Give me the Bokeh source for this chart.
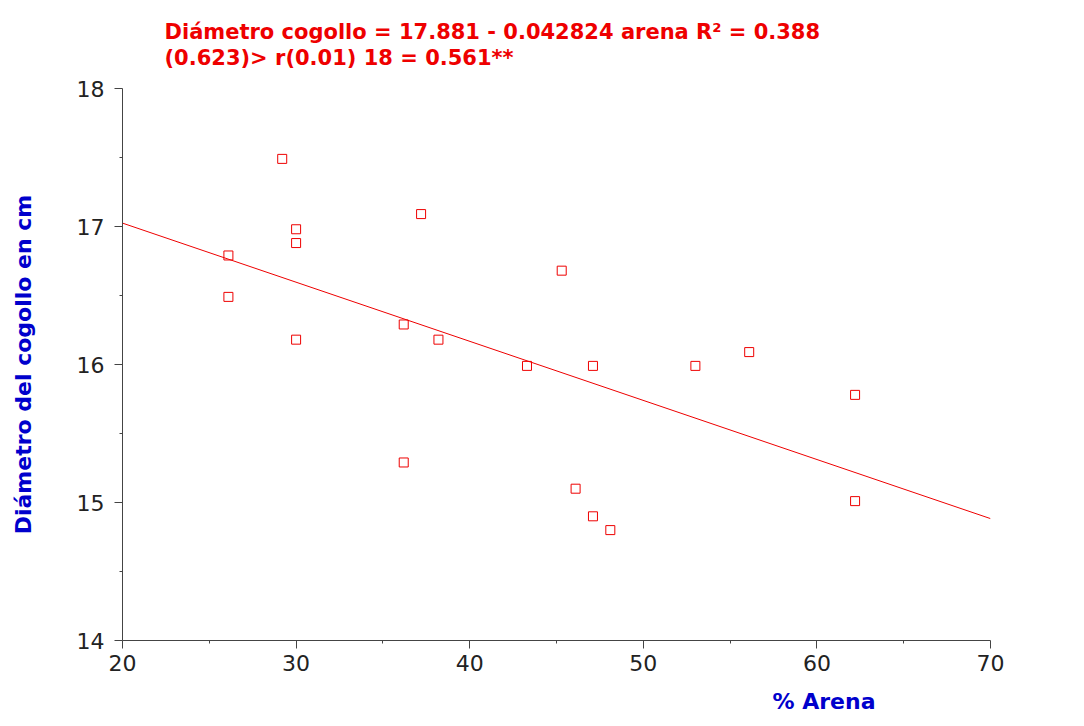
from bokeh.plotting import figure
from bokeh.models import FixedTicker, Range1d, Title
from bokeh.embed import file_html
from bokeh.resources import INLINE

# Data
arena = [29.2, 37.2, 30.0, 30.0, 26.1, 26.1, 45.3, 36.2, 38.2, 30.0,
         43.3, 47.1, 53.0, 56.1, 62.2, 62.2, 36.2, 46.1, 47.1, 48.1]
diametro = [17.49, 17.09, 16.98, 16.88, 16.79, 16.49, 16.68, 16.29, 16.18, 16.18,
            15.99, 15.99, 15.99, 16.09, 15.78, 15.01, 15.29, 15.10, 14.90, 14.80]
intercept = 17.881
slope = -0.042824
line_x = [20, 70]
line_y = [intercept + slope * x for x in line_x]

x_ticks = [20, 30, 40, 50, 60, 70]
x_minor = [25, 35, 45, 55, 65]
y_ticks = [14, 15, 16, 17, 18]
y_minor = [14.5, 15.5, 16.5, 17.5]

title1 = "Diámetro cogollo = 17.881 - 0.042824 arena  R² = 0.388"
title2 = "(0.623)> r(0.01) 18 = 0.561**"
xlabel = "% Arena"
ylabel = "Diámetro del cogollo en cm"

FONT = "DejaVu Sans"
RED = "#ee0000"
BLUE = "#0000cc"

p = figure(width=1084, height=726, output_backend="svg", toolbar_location=None,
           title=None,
           x_range=Range1d(20, 70), y_range=Range1d(14, 18),
           min_border_left=122, min_border_right=94, min_border_top=88, min_border_bottom=86)
p.outline_line_color = None
p.xgrid.grid_line_color = None
p.ygrid.grid_line_color = None
p.background_fill_color = "white"

for ax, ticks, minor in ((p.xaxis[0], x_ticks, x_minor), (p.yaxis[0], y_ticks, y_minor)):
    ax.ticker = FixedTicker(ticks=ticks, minor_ticks=minor)
    ax.axis_line_color = "#444444"
    ax.major_tick_line_color = "#444444"
    ax.minor_tick_line_color = "#444444"
    ax.major_tick_out = 8
    ax.major_tick_in = 0
    ax.minor_tick_out = 3
    ax.minor_tick_in = 0
    ax.major_label_text_font = FONT
    ax.major_label_text_font_size = "22px"
    ax.major_label_text_color = "#222222"
p.xaxis.major_label_standoff = 6
p.yaxis.major_label_standoff = 10

p.yaxis.axis_label = ylabel
p.yaxis.axis_label_text_font = FONT
p.yaxis.axis_label_text_font_style = "bold"
p.yaxis.axis_label_text_font_size = "22px"
p.yaxis.axis_label_text_color = BLUE
p.yaxis.axis_label_standoff = 38

p.line(line_x, line_y, line_color=RED, line_width=1)
p.scatter(arena, diametro, marker="square", size=9, fill_color=None,
          line_color=RED, line_width=1)

p.add_layout(Title(text=title1 + "\n" + title2, align="left", offset=42, text_font=FONT,
                   text_font_style="bold", text_font_size="21px", text_color=RED,
                   text_line_height=1.1, standoff=36), "above")
p.add_layout(Title(text=xlabel, align="left", offset=650, text_font=FONT,
                   text_font_style="bold", text_font_size="22px", text_color=BLUE,
                   text_line_height=0.9, standoff=26), "below")

open("out.html", "w").write(file_html(p, INLINE))
